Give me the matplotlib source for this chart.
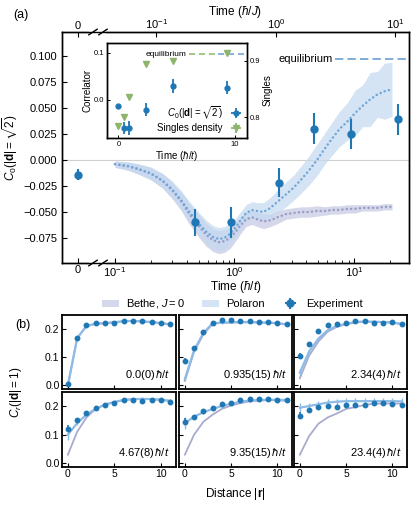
import numpy as np
import matplotlib
matplotlib.use('Agg')
import matplotlib.pyplot as plt
from matplotlib.ticker import FixedLocator, FuncFormatter, NullLocator

plt.rcParams['font.family'] = ['Liberation Sans', 'DejaVu Sans']
plt.rcParams['mathtext.fontset'] = 'custom'
plt.rcParams['mathtext.rm'] = 'Liberation Sans'
plt.rcParams['mathtext.it'] = 'Liberation Sans:italic'
plt.rcParams['mathtext.bf'] = 'Liberation Sans:bold'
plt.rcParams['mathtext.fallback'] = 'stixsans'
plt.rcParams['xtick.direction'] = 'in'
plt.rcParams['ytick.direction'] = 'in'
plt.rcParams['axes.linewidth'] = 1.0

# ---- data: panel (a) ----
J_over_t = 0.45  # time in hbar/J = time in hbar/t * J/t
t_exp = [0.0, 0.47, 0.935, 2.34, 4.67, 9.35, 23.4]
t_exp_err = [0.0, 0.008, 0.015, 0.04, 0.08, 0.15, 0.4]
c0_exp = [-0.014, -0.060, -0.060, -0.022, 0.030, 0.025, 0.039]
c0_err = [0.005, 0.013, 0.015, 0.014, 0.015, 0.014, 0.015]

t_th = [0.10, 0.13, 0.16, 0.20, 0.25, 0.30, 0.36, 0.42, 0.50, 0.58, 0.66, 0.74,
        0.82, 0.92, 1.02, 1.12, 1.25, 1.40, 1.55, 1.75, 2.0, 2.3, 2.7, 3.1,
        3.6, 4.2, 4.9, 5.7, 6.6, 7.6, 8.8, 10.2, 11.8, 13.6, 15.7, 18.0, 20.8]
bethe_c0 = [-0.004, -0.006, -0.009, -0.013, -0.020, -0.029, -0.040, -0.052, -0.063,
            -0.072, -0.077, -0.079, -0.078, -0.075, -0.069, -0.063, -0.057, -0.055,
            -0.057, -0.059, -0.058, -0.055, -0.052, -0.051, -0.050, -0.050, -0.049,
            -0.049, -0.048, -0.048, -0.047, -0.047, -0.046, -0.046, -0.046, -0.045, -0.045]
bethe_band = [0.003, 0.004, 0.005, 0.006, 0.007, 0.008, 0.009, 0.010, 0.011, 0.011,
              0.011, 0.011, 0.011, 0.010, 0.009, 0.008, 0.007, 0.007, 0.007, 0.007,
              0.006, 0.006, 0.005, 0.005, 0.005, 0.005, 0.005, 0.004, 0.004, 0.004,
              0.004, 0.004, 0.003, 0.003, 0.003, 0.003, 0.003]
polaron_c0 = [-0.004, -0.006, -0.009, -0.013, -0.020, -0.028, -0.039, -0.050, -0.061,
              -0.069, -0.074, -0.076, -0.075, -0.071, -0.065, -0.058, -0.051, -0.048,
              -0.049, -0.050, -0.046, -0.040, -0.033, -0.027, -0.019, -0.010, 0.000,
              0.011, 0.021, 0.030, 0.037, 0.045, 0.052, 0.058, 0.063, 0.066, 0.068]
polaron_band = [0.003, 0.004, 0.005, 0.006, 0.007, 0.008, 0.009, 0.010, 0.011, 0.011,
                0.011, 0.011, 0.011, 0.010, 0.009, 0.008, 0.008, 0.008, 0.008, 0.009,
                0.010, 0.011, 0.012, 0.012, 0.013, 0.014, 0.015, 0.015, 0.016, 0.017,
                0.018, 0.022, 0.020, 0.026, 0.022, 0.027, 0.026]
eq_c0 = 0.097

# inset
singles = [0.785, 0.801, 0.835, 0.893, 0.900, 0.914]
singles_err = [0.003, 0.003, 0.003, 0.003, 0.003, 0.003]
eq_singles = 0.912

# ---- data: panel (b) ----
r = list(range(12))
labels_b = ['0.0(0)', '0.935(15)', '2.34(4)', '4.67(8)', '9.35(15)', '23.4(4)']
cr_exp = [
    [0.005, 0.167, 0.212, 0.219, 0.220, 0.222, 0.228, 0.229, 0.227, 0.225, 0.220, 0.216],
    [0.086, 0.133, 0.189, 0.222, 0.231, 0.230, 0.226, 0.228, 0.225, 0.224, 0.222, 0.216],
    [0.104, 0.146, 0.192, 0.212, 0.216, 0.222, 0.228, 0.227, 0.222, 0.222, 0.223, 0.216],
    [0.120, 0.152, 0.175, 0.193, 0.204, 0.211, 0.220, 0.220, 0.218, 0.222, 0.221, 0.213],
    [0.145, 0.161, 0.184, 0.194, 0.206, 0.212, 0.220, 0.223, 0.223, 0.223, 0.222, 0.221],
    [0.166, 0.187, 0.197, 0.200, 0.197, 0.204, 0.204, 0.204, 0.209, 0.209, 0.208, 0.204],
]
cr_exp_err = [
    [0.004] * 12,
    [0.010] + [0.005] * 11,
    [0.010] + [0.005] * 11,
    [0.012] + [0.005] * 11,
    [0.013] + [0.005] * 11,
    [0.013] + [0.006] * 11,
]
cr_polaron = [
    [0.000, 0.167, 0.210, 0.218, 0.220, 0.223, 0.227, 0.228, 0.226, 0.224, 0.220, 0.216],
    [0.022, 0.125, 0.185, 0.220, 0.222, 0.223, 0.224, 0.224, 0.223, 0.222, 0.220, 0.216],
    [0.045, 0.120, 0.165, 0.195, 0.210, 0.218, 0.224, 0.226, 0.225, 0.224, 0.222, 0.217],
    [0.100, 0.140, 0.170, 0.190, 0.205, 0.214, 0.221, 0.224, 0.225, 0.224, 0.222, 0.218],
    [0.140, 0.163, 0.178, 0.190, 0.200, 0.208, 0.215, 0.219, 0.221, 0.222, 0.222, 0.221],
    [0.194, 0.200, 0.206, 0.212, 0.215, 0.217, 0.217, 0.217, 0.217, 0.217, 0.217, 0.216],
]
cr_polaron_err = [
    [0.002] * 12,
    [0.004] * 12,
    [0.012] + [0.004] * 11,
    [0.020] + [0.005] * 11,
    [0.022] + [0.006] * 11,
    [0.015] + [0.011] * 11,
]
cr_bethe = [
    [0.000, 0.167, 0.210, 0.218, 0.220, 0.223, 0.227, 0.228, 0.226, 0.224, 0.220, 0.216],
    [0.015, 0.120, 0.180, 0.218, 0.221, 0.222, 0.223, 0.223, 0.222, 0.221, 0.219, 0.215],
    [0.025, 0.105, 0.155, 0.190, 0.207, 0.216, 0.222, 0.225, 0.225, 0.224, 0.222, 0.217],
    [0.030, 0.110, 0.160, 0.190, 0.205, 0.214, 0.221, 0.224, 0.225, 0.224, 0.222, 0.218],
    [0.030, 0.100, 0.145, 0.170, 0.190, 0.202, 0.210, 0.216, 0.219, 0.220, 0.220, 0.218],
    [0.030, 0.095, 0.138, 0.160, 0.174, 0.190, 0.196, 0.204, 0.208, 0.209, 0.209, 0.208],
]

# colours
blue = '#1f77b4'
pol_band_c = '#c3d9f0'
pol_line_c = '#6fa6da'
bethe_band_c = '#b9bedc'
bethe_line_c = '#9a9cc6'
green = '#8db56b'
eq_c = '#6a9fd3'

W, H = 416, 508
fig = plt.figure(figsize=(W / 100, H / 100), dpi=100)


def px(x0, y0, x1, y1):
    return [x0 / W, 1 - y1 / H, (x1 - x0) / W, (y1 - y0) / H]


def minus(v, pos, fmt='%.3f'):
    return (fmt % v).replace('-', '\u2212')


# ================= panel (a) =================
zero_pos = 0.049  # where t = 0 sits left of the axis break
ax = fig.add_axes(px(62, 32, 409, 263))
ax.set_xscale('log')
ax.set_xlim(10 ** -1.443, 10 ** 1.46)
ax.set_ylim(-0.099, 0.123)

t_th_a = np.array(t_th)
ax.fill_between(t_th_a, np.array(bethe_c0) - bethe_band, np.array(bethe_c0) + bethe_band,
                color=bethe_band_c, alpha=0.6, lw=0, label='Bethe, $J=0$')
ax.fill_between(t_th_a, np.array(polaron_c0) - polaron_band, np.array(polaron_c0) + polaron_band,
                color=pol_band_c, alpha=0.7, lw=0, label='Polaron')
ax.plot(t_th_a, bethe_c0, ls=(0, (0.05, 1.7)), lw=1.8, color=bethe_line_c, dash_capstyle='round')
ax.plot(t_th_a, polaron_c0, ls=(0, (0.05, 1.7)), lw=1.8, color=pol_line_c, dash_capstyle='round')
ax.axhline(0, color='#d0d0d0', lw=0.8, zorder=0)
ax.axhline(eq_c0, xmin=0.787, xmax=1, color=eq_c, ls=(0, (5, 2.5)), lw=1.2)
ax.text(0.78, eq_c0, 'equilibrium', transform=ax.get_yaxis_transform(),
        ha='right', va='center', fontsize=8)

t_plot = [zero_pos if t == 0 else t for t in t_exp]
exp_h = ax.errorbar(t_plot, c0_exp, yerr=c0_err, xerr=t_exp_err, fmt='o', ms=5,
                    color=blue, elinewidth=1.5, capsize=0, label='Experiment', zorder=5)

ax.set_xticks([zero_pos, 0.1, 1, 10])
ax.set_xticklabels(['0', '$10^{-1}$', '$10^{0}$', '$10^{1}$'])
ax.xaxis.set_minor_locator(FixedLocator([k * 10.0 ** d for d in (-1, 0, 1) for k in range(2, 10)
                                         if k * 10.0 ** d < 28]))
ax.set_yticks([-0.075, -0.05, -0.025, 0, 0.025, 0.05, 0.075, 0.1])
ax.yaxis.set_major_formatter(FuncFormatter(minus))
ax.tick_params(labelsize=8, length=3.5, width=0.8)
ax.tick_params(axis='x', pad=1.5)
ax.tick_params(which='minor', length=2, width=0.6)
ax.set_xlabel(r'Time ($\hbar/t$)', fontsize=8.5, labelpad=0)
ax.set_ylabel(r'$C_0(|\mathbf{d}|=\sqrt{2})$', fontsize=8.5, labelpad=3)

ax2 = ax.twiny()
ax2.set_xscale('log')
ax2.set_xlim(ax.get_xlim())
ax2.set_xticks([zero_pos, 0.1 / J_over_t, 1 / J_over_t, 10 / J_over_t])
ax2.set_xticklabels(['0', '$10^{-1}$', '$10^{0}$', '$10^{1}$'])
ax2.xaxis.set_minor_locator(NullLocator())
ax2.tick_params(labelsize=8, length=3.5, width=0.8, pad=0.5)
ax2.set_xlabel(r'Time ($\hbar/J$)', fontsize=8.5, labelpad=2)

# axis break marks
gx0, gx1 = (89 - 62) / 347, (106 - 62) / 347
for yy in (0, 1):
    ax.plot([gx0, gx1], [yy, yy], transform=ax.transAxes, color='white', lw=3,
            clip_on=False, zorder=10, solid_capstyle='butt')
    for cx in ((93 - 62) / 347, (103 - 62) / 347):
        ax.plot([cx - 0.012, cx + 0.012], [yy - 0.012, yy + 0.012], transform=ax.transAxes,
                color='black', lw=1.0, clip_on=False, zorder=11)

# inset
axi = fig.add_axes(px(107, 43, 247, 138))
axi.set_xlim(-0.97, 11.03)
axi.set_ylim(-0.082, 0.121)
axr = axi.twinx()
axr.set_ylim(0.763, 0.931)
axi.axhline(eq_c0, xmin=0.79, xmax=1, color=eq_c, ls=(0, (4, 2.5)), lw=1.1, zorder=3)
axr.axhline(eq_singles, xmin=0.585, xmax=0.79, color=green, ls=(0, (4, 2.5)), lw=1.1)
axi.text(0.565, eq_c0, 'equilibrium', transform=axi.get_yaxis_transform(),
         ha='right', va='center', fontsize=6)
hc = axi.errorbar(t_exp, c0_exp, yerr=c0_err, xerr=t_exp_err, fmt='o', ms=3.5, color=blue,
                  elinewidth=1.3, capsize=0, label=r'$C_0(|\mathbf{d}|=\sqrt{2})$')
hs = axr.errorbar(t_exp[:6], singles, yerr=singles_err, xerr=t_exp_err[:6], fmt='v', ms=4,
                  color=green, elinewidth=1.3, capsize=0, label='Singles density')
axi.set_xticks([0, 10])
axi.set_yticks([0.0, 0.1])
axi.yaxis.set_major_formatter(FuncFormatter(lambda v, p: '%.1f' % v))
axr.set_yticks([0.8, 0.9])
axi.tick_params(labelsize=5.5, length=2.5, width=0.7, pad=2)
axr.tick_params(labelsize=5.5, length=2.5, width=0.7, pad=2)
axi.set_xlabel(r'Time ($\hbar/t$)', fontsize=7, labelpad=1)
axi.set_ylabel('Correlator', fontsize=7, labelpad=1)
axr.set_ylabel('Singles', fontsize=7, labelpad=2)
axr.legend([hc, hs], [hc.get_label(), hs.get_label()], loc='lower right', fontsize=7,
           frameon=False, markerfirst=False, handlelength=1.2, handletextpad=0.8,
           borderaxespad=0.1, labelspacing=0.2)

fig.legend(handles=ax.get_legend_handles_labels()[0], labels=ax.get_legend_handles_labels()[1],
           loc='center', bbox_to_anchor=(232 / W, 1 - 304 / H), ncol=3, fontsize=8,
           frameon=False, handlelength=1.6, handleheight=0.6, columnspacing=1.5,
           handletextpad=0.6)

fig.text(21 / W, 1 - 15 / H, '(a)', fontsize=9, ha='center', va='center')

# ================= panel (b) =================
col_x = [(62.3, 175.7), (179.3, 292.3), (294.3, 407.3)]
row_y = [(314.7, 388.7), (391.7, 466.7)]
for i in range(6):
    row, col = divmod(i, 3)
    axb = fig.add_axes(px(col_x[col][0], row_y[row][0], col_x[col][1], row_y[row][1]))
    axb.plot(r, cr_bethe[i], color=bethe_line_c, lw=1.3, alpha=0.85)
    axb.errorbar(r, cr_polaron[i], yerr=cr_polaron_err[i], color='#8dbbe6', lw=1.6,
                 elinewidth=1.0, capsize=0)
    axb.errorbar(r, cr_exp[i], yerr=cr_exp_err[i], fmt='o', ms=3.2, color=blue,
                 elinewidth=1.2, capsize=0)
    axb.set_xlim(-0.6, 11.6)
    axb.set_ylim(-0.012, 0.25)
    axb.set_xticks([0, 5, 10])
    axb.set_yticks([0.0, 0.1, 0.2])
    axb.yaxis.set_major_formatter(FuncFormatter(lambda v, p: '%.1f' % v))
    axb.tick_params(labelsize=7.5, length=3, width=0.8, pad=2)
    if col > 0:
        axb.tick_params(labelleft=False)
    if row == 0:
        axb.tick_params(labelbottom=False)
    for s in axb.spines.values():
        s.set_linewidth(1.3)
    axb.text(0.95, 0.09, labels_b[i] + r'$\,\hbar/t$', transform=axb.transAxes,
             ha='right', va='bottom', fontsize=8)

fig.text(23 / W, 1 - 325 / H, '(b)', fontsize=9, ha='center', va='center')
fig.text(16 / W, 1 - 392 / H, r'$C_r(|\mathbf{d}|=1)$', fontsize=8.5, rotation=90,
         ha='center', va='center')
fig.text(235 / W, 1 - 494 / H, r'Distance $|\mathbf{r}|$', fontsize=8.5, ha='center', va='center')

fig.savefig('out.png', dpi=100)
